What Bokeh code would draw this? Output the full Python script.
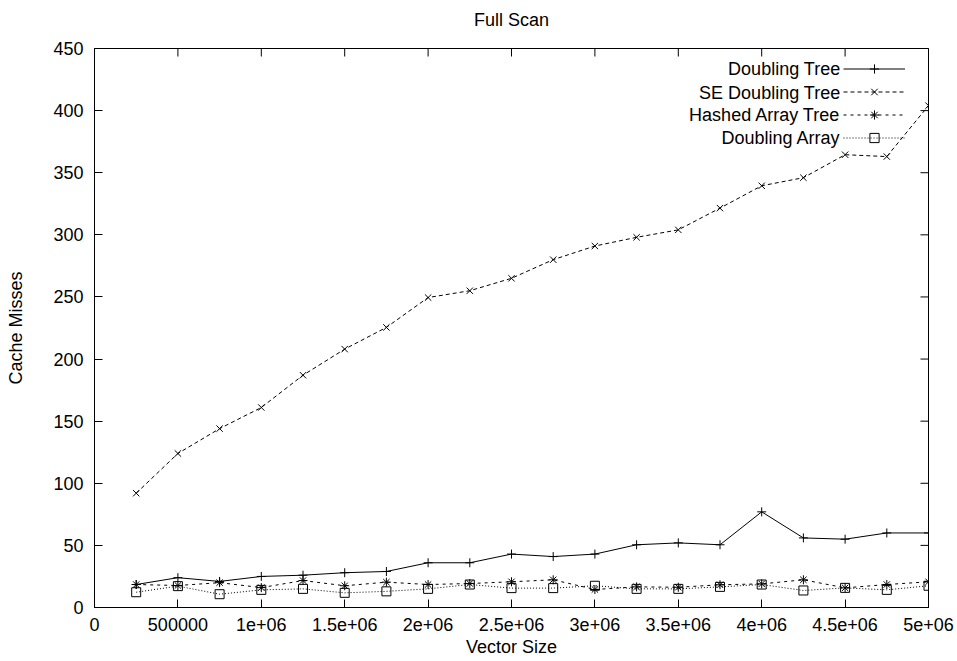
import math
from bokeh.plotting import figure
from bokeh.layouts import column
from bokeh.models import FixedTicker, Range1d, Legend, LegendItem, Label
from bokeh.embed import file_html
from bokeh.resources import INLINE

# ---- data ----
vector_size = [250000, 500000, 750000, 1000000, 1250000, 1500000, 1750000, 2000000,
               2250000, 2500000, 2750000, 3000000, 3250000, 3500000, 3750000, 4000000,
               4250000, 4500000, 4750000, 5000000]
doubling_tree = [18.5, 24, 21, 25, 26, 28, 29, 36, 36, 43, 41, 43, 50.5, 52, 50.5, 77,
                 56, 55, 60, 60]
se_doubling_tree = [92, 124, 144, 161, 187, 208, 225.5, 249.5, 255, 265, 280, 291, 298,
                    304, 321.5, 339.5, 346, 364.5, 363, 404]
hashed_array_tree = [18.5, 17.7, 20, 16, 21.7, 17.5, 20.4, 18.5, 19.3, 20.7, 22.3, 14.5,
                     16.6, 16.3, 18.3, 19, 22.3, 15.8, 18.5, 20.7]
doubling_array = [12.3, 17.2, 10.7, 14.2, 15, 11.8, 13, 15, 18.5, 15.6, 15.6, 17.5, 15,
                  15, 16.6, 18.5, 13.7, 15.8, 14.2, 17.5]

series_names = ["Doubling Tree", "SE Doubling Tree", "Hashed Array Tree", "Doubling Array"]

x_ticks = [0, 500000, 1000000, 1500000, 2000000, 2500000, 3000000, 3500000, 4000000,
           4500000, 5000000]
x_tick_labels = ["0", "500000", "1e+06", "1.5e+06", "2e+06", "2.5e+06", "3e+06",
                 "3.5e+06", "4e+06", "4.5e+06", "5e+06"]
y_ticks = [0, 50, 100, 150, 200, 250, 300, 350, 400, 450]

X_MIN, X_MAX = 0, 5000000
Y_MIN, Y_MAX = 0, 450

TITLE = "Full Scan"
FONT = "Liberation Sans"
FS = "18px"

# ---- title strip (its frame is aligned with the main plot's frame by the column) ----
tfig = figure(width=957, height=28, output_backend="svg", toolbar_location=None,
              x_range=Range1d(0, 1), y_range=Range1d(0, 1),
              x_axis_location=None, y_axis_location=None,
              min_border=0, min_border_left=0, min_border_right=0,
              min_border_top=0, min_border_bottom=0)
tfig.grid.visible = False
tfig.outline_line_color = None
tfig.background_fill_color = "white"
tfig.border_fill_color = "white"
tfig.add_layout(Label(x=417, y=9, x_units="screen", y_units="screen", text=TITLE,
                      text_align="center", text_baseline="middle", text_font=FONT,
                      text_font_size=FS, text_color="black"))

# ---- main plot ----
p = figure(width=957, height=633, output_backend="svg", toolbar_location=None,
           x_range=Range1d(X_MIN, X_MAX), y_range=Range1d(Y_MIN, Y_MAX),
           min_border_left=94, min_border_right=29, min_border_top=20,
           min_border_bottom=54, x_axis_label="Vector Size", y_axis_label="Cache Misses")
p.grid.visible = False
p.outline_line_color = "black"
p.outline_line_width = 1
p.background_fill_color = "white"
p.border_fill_color = "white"

def style_axis(ax, ticks):
    ax.ticker = FixedTicker(ticks=ticks)
    ax.major_tick_in = 8
    ax.major_tick_out = 0
    ax.minor_tick_line_color = None
    ax.axis_line_color = "black"
    ax.major_tick_line_color = "black"
    ax.major_label_text_font = FONT
    ax.major_label_text_font_size = FS
    ax.major_label_text_color = "black"
    ax.axis_label_text_font = FONT
    ax.axis_label_text_font_size = FS
    ax.axis_label_text_font_style = "normal"
    ax.axis_label_text_color = "black"

xa = p.xaxis[0]
style_axis(xa, x_ticks)
xa.major_label_overrides = {t: l for t, l in zip(x_ticks, x_tick_labels)}
xa.major_label_standoff = 10
xa.axis_label_standoff = 3
ya = p.yaxis[0]
style_axis(ya, y_ticks)
ya.major_label_standoff = 11
ya.axis_label_standoff = 24

# mirrored inward ticks on top and right borders (dash markers clipped by the frame)
p.scatter(x_ticks, [Y_MAX] * len(x_ticks), marker="dash", size=16, angle=math.pi / 2,
          line_color="black", line_width=1)
p.scatter([X_MAX] * len(y_ticks), y_ticks, marker="dash", size=16, angle=0,
          line_color="black", line_width=1)

specs = [
    (doubling_tree, "solid", "cross"),
    (se_doubling_tree, "4 3", "x"),
    (hashed_array_tree, "3 4", "asterisk"),
    (doubling_array, "1 2", "square"),
]

items = []
for ys, dash, marker in specs:
    lr = p.line(vector_size, ys, line_color="black", line_width=1, line_dash=dash)
    sr = p.scatter(vector_size, ys, marker=marker, size=9, line_color="black",
                   fill_color=None, line_width=1)
    items.append(LegendItem(label=" ", renderers=[lr, sr]))

legend = Legend(items=items, location=(749, 458), padding=0, margin=0, spacing=0,
                glyph_width=62, glyph_height=23, label_standoff=0,
                label_text_font_size="10px", border_line_color=None,
                background_fill_alpha=0)
p.add_layout(legend, "center")

label_y = [539, 515, 493, 470]
for name, ly in zip(series_names, label_y):
    p.add_layout(Label(x=746, y=ly, x_units="screen", y_units="screen", text=name,
                       text_align="right", text_baseline="middle", text_font=FONT,
                       text_font_size=FS, text_color="black"))

layout = column(tfig, p, spacing=0)
open("out.html", "w").write(file_html(layout, INLINE))
